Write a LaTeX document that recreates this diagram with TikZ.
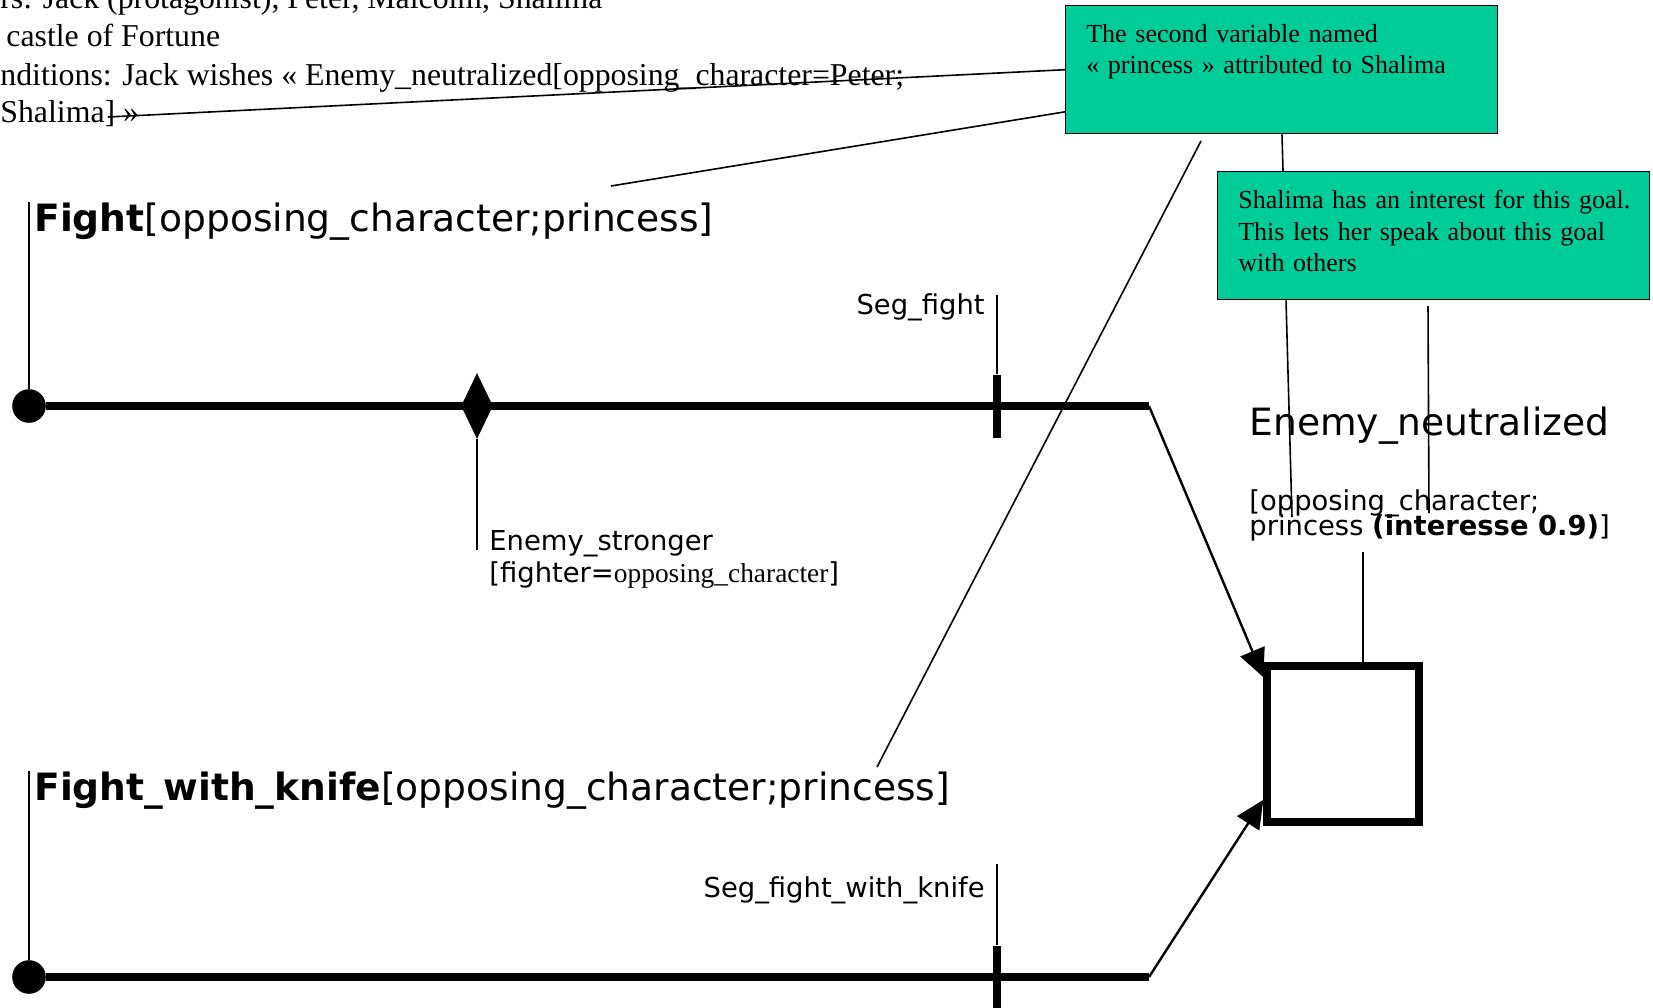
\documentclass[tikz,border=0pt]{standalone}
\usepackage{fontspec}
\setmainfont{Liberation Serif}
\setsansfont{DejaVu Sans}
\usetikzlibrary{shapes.geometric,arrows.meta}
\definecolor{noteGreen}{RGB}{0,204,153}

\begin{document}
\begin{tikzpicture}[
        x=0.5pt, y=-0.5pt,
        ctx/.style={anchor=base west, inner sep=0, font=\fontsize{15.9pt}{18.8pt}\selectfont},
        note/.style={draw, fill=noteGreen, line width=0.7pt, anchor=north west, align=left,
            text width=195.4pt, inner xsep=10.3pt, inner ysep=0pt, minimum height=64pt,
            font=\fontsize{13pt}{15.8pt}\selectfont},
        headline/.style={anchor=base west, inner sep=0, font=\sffamily\fontsize{18.8pt}{22pt}\selectfont},
        smalltxt/.style={inner sep=0, font=\sffamily\fontsize{13.7pt}{16pt}\selectfont},
        startdot/.style={circle, fill, minimum size=16.8pt, inner sep=0},
        choice/.style={diamond, fill, minimum width=16pt, minimum height=33pt, inner sep=0},
        segtick/.style={fill, minimum width=4pt, minimum height=31.5pt, inner sep=0},
        goal/.style={draw, line width=3.7pt, minimum width=76pt, minimum height=78pt, inner sep=0},
        timeline/.style={line width=3.8pt},
        link/.style={line width=0.8pt},
        arrow/.style={line width=1.2pt, -{Triangle[length=14pt, width=13pt]}}
    ]
    \useasboundingbox (0,0) rectangle (1653,1007);

    % Contexte
    \node[ctx] (ctxChars) at (0,8) {rs: Jack (protagonist), Peter, Malcolm, Shalima};
    \node[ctx] (ctxPlace) at (6,46) {castle of Fortune};
    \node[ctx] (ctxCond) at (0,85) {nditions: Jack wishes « Enemy\_neutralized[opposing\_character=Peter;};
    \node[ctx] (ctxCondEnd) at (0,122) {Shalima] »};

    % Notes
    \node[note] (noteVar) at (1065,5) {The second variable named\\« princess » attributed to Shalima\\\strut};
    \node[note] (noteInterest) at (1217,171) {\mbox{Shalima has an interest for this goal.}\\This lets her speak about this goal\\with others\strut};

    % Buts
    \node[headline] (fightLabel) at (34,231) {\textbf{Fight}[opposing\_character;princess]};
    \node[headline] (knifeLabel) at (34,800) {\textbf{Fight\_with\_knife}[opposing\_character;princess]};
    \node[headline] (goalLabel) at (1249,435) {Enemy\_neutralized};
    \node[smalltxt, anchor=base west] (goalArgs) at (1249,510) {[opposing\_character;};
    \node[smalltxt, anchor=base west] (goalArgsEnd) at (1249,535) {princess \textbf{(interesse 0.9)}]};

    % Lignes de temps
    \node[startdot] (fightStart) at (29,406) {};
    \node[startdot] (knifeStart) at (29,977) {};
    \coordinate (fightEnd) at (1149,406);
    \coordinate (knifeEnd) at (1149,977);
    \node[choice] (strongerMark) at (477,406) {};
    \node[segtick] (fightTick) at (997,406) {};
    \node[segtick] (knifeTick) at (997,977) {};
    \node[goal] (goalBox) at (1343,744) {};

    \node[smalltxt, anchor=base east] (fightSeg) at (985,314) {Seg\_fight};
    \node[smalltxt, anchor=base east] (knifeSeg) at (985,897) {Seg\_fight\_with\_knife};
    \node[smalltxt, anchor=base west] (strongerLabel) at (489,550) {Enemy\_stronger};
    \node[smalltxt, anchor=base west] (strongerArgs) at (489,582) {[fighter={\rmfamily opposing\_character}]};

    % Bouts libres des traits
    \coordinate (fightSegTop) at (997,295);
    \coordinate (knifeSegTop) at (997,864);
    \coordinate (varTipA) at (108,117);
    \coordinate (varTipB) at (611,186);
    \coordinate (varTipC) at (1201,141);
    \coordinate (varTipD) at (877,767);
    \coordinate (interestTipA) at (1292,517);
    \coordinate (interestTipB) at (1428,306);
    \coordinate (interestTipC) at (1429,513);
    \coordinate (argsTip) at (1363,552);

    % Traits
    \draw[timeline] (fightStart) -- (fightEnd);
    \draw[timeline] (knifeStart) -- (knifeEnd);
    \draw[arrow] (fightEnd) -- (goalBox.140);
    \draw[arrow] (knifeEnd) -- (goalBox.215);

    \draw[link] (fightStart) -- (fightStart |- fightLabel.north);
    \draw[link] (knifeStart) -- (knifeStart |- knifeLabel.north);
    \draw[link] (strongerMark) -- (strongerMark |- strongerLabel.base);
    \draw[link] (fightTick) -- (fightSegTop);
    \draw[link] (knifeTick) -- (knifeSegTop);
    \draw[link] (argsTip) -- (goalBox.north -| argsTip);

    \draw[link] (noteVar.west) -- (varTipA);
    \draw[link] (noteVar.191) -- (varTipB);
    \draw[link] (varTipC) -- (varTipD);
    \draw[link] (noteVar.south -| 1282,0) -- (noteInterest.north -| 1283,0);
    \draw[link] (noteInterest.south -| 1286,0) -- (interestTipA);
    \draw[link] (interestTipB) -- (interestTipC);

\end{tikzpicture}
\end{document}
